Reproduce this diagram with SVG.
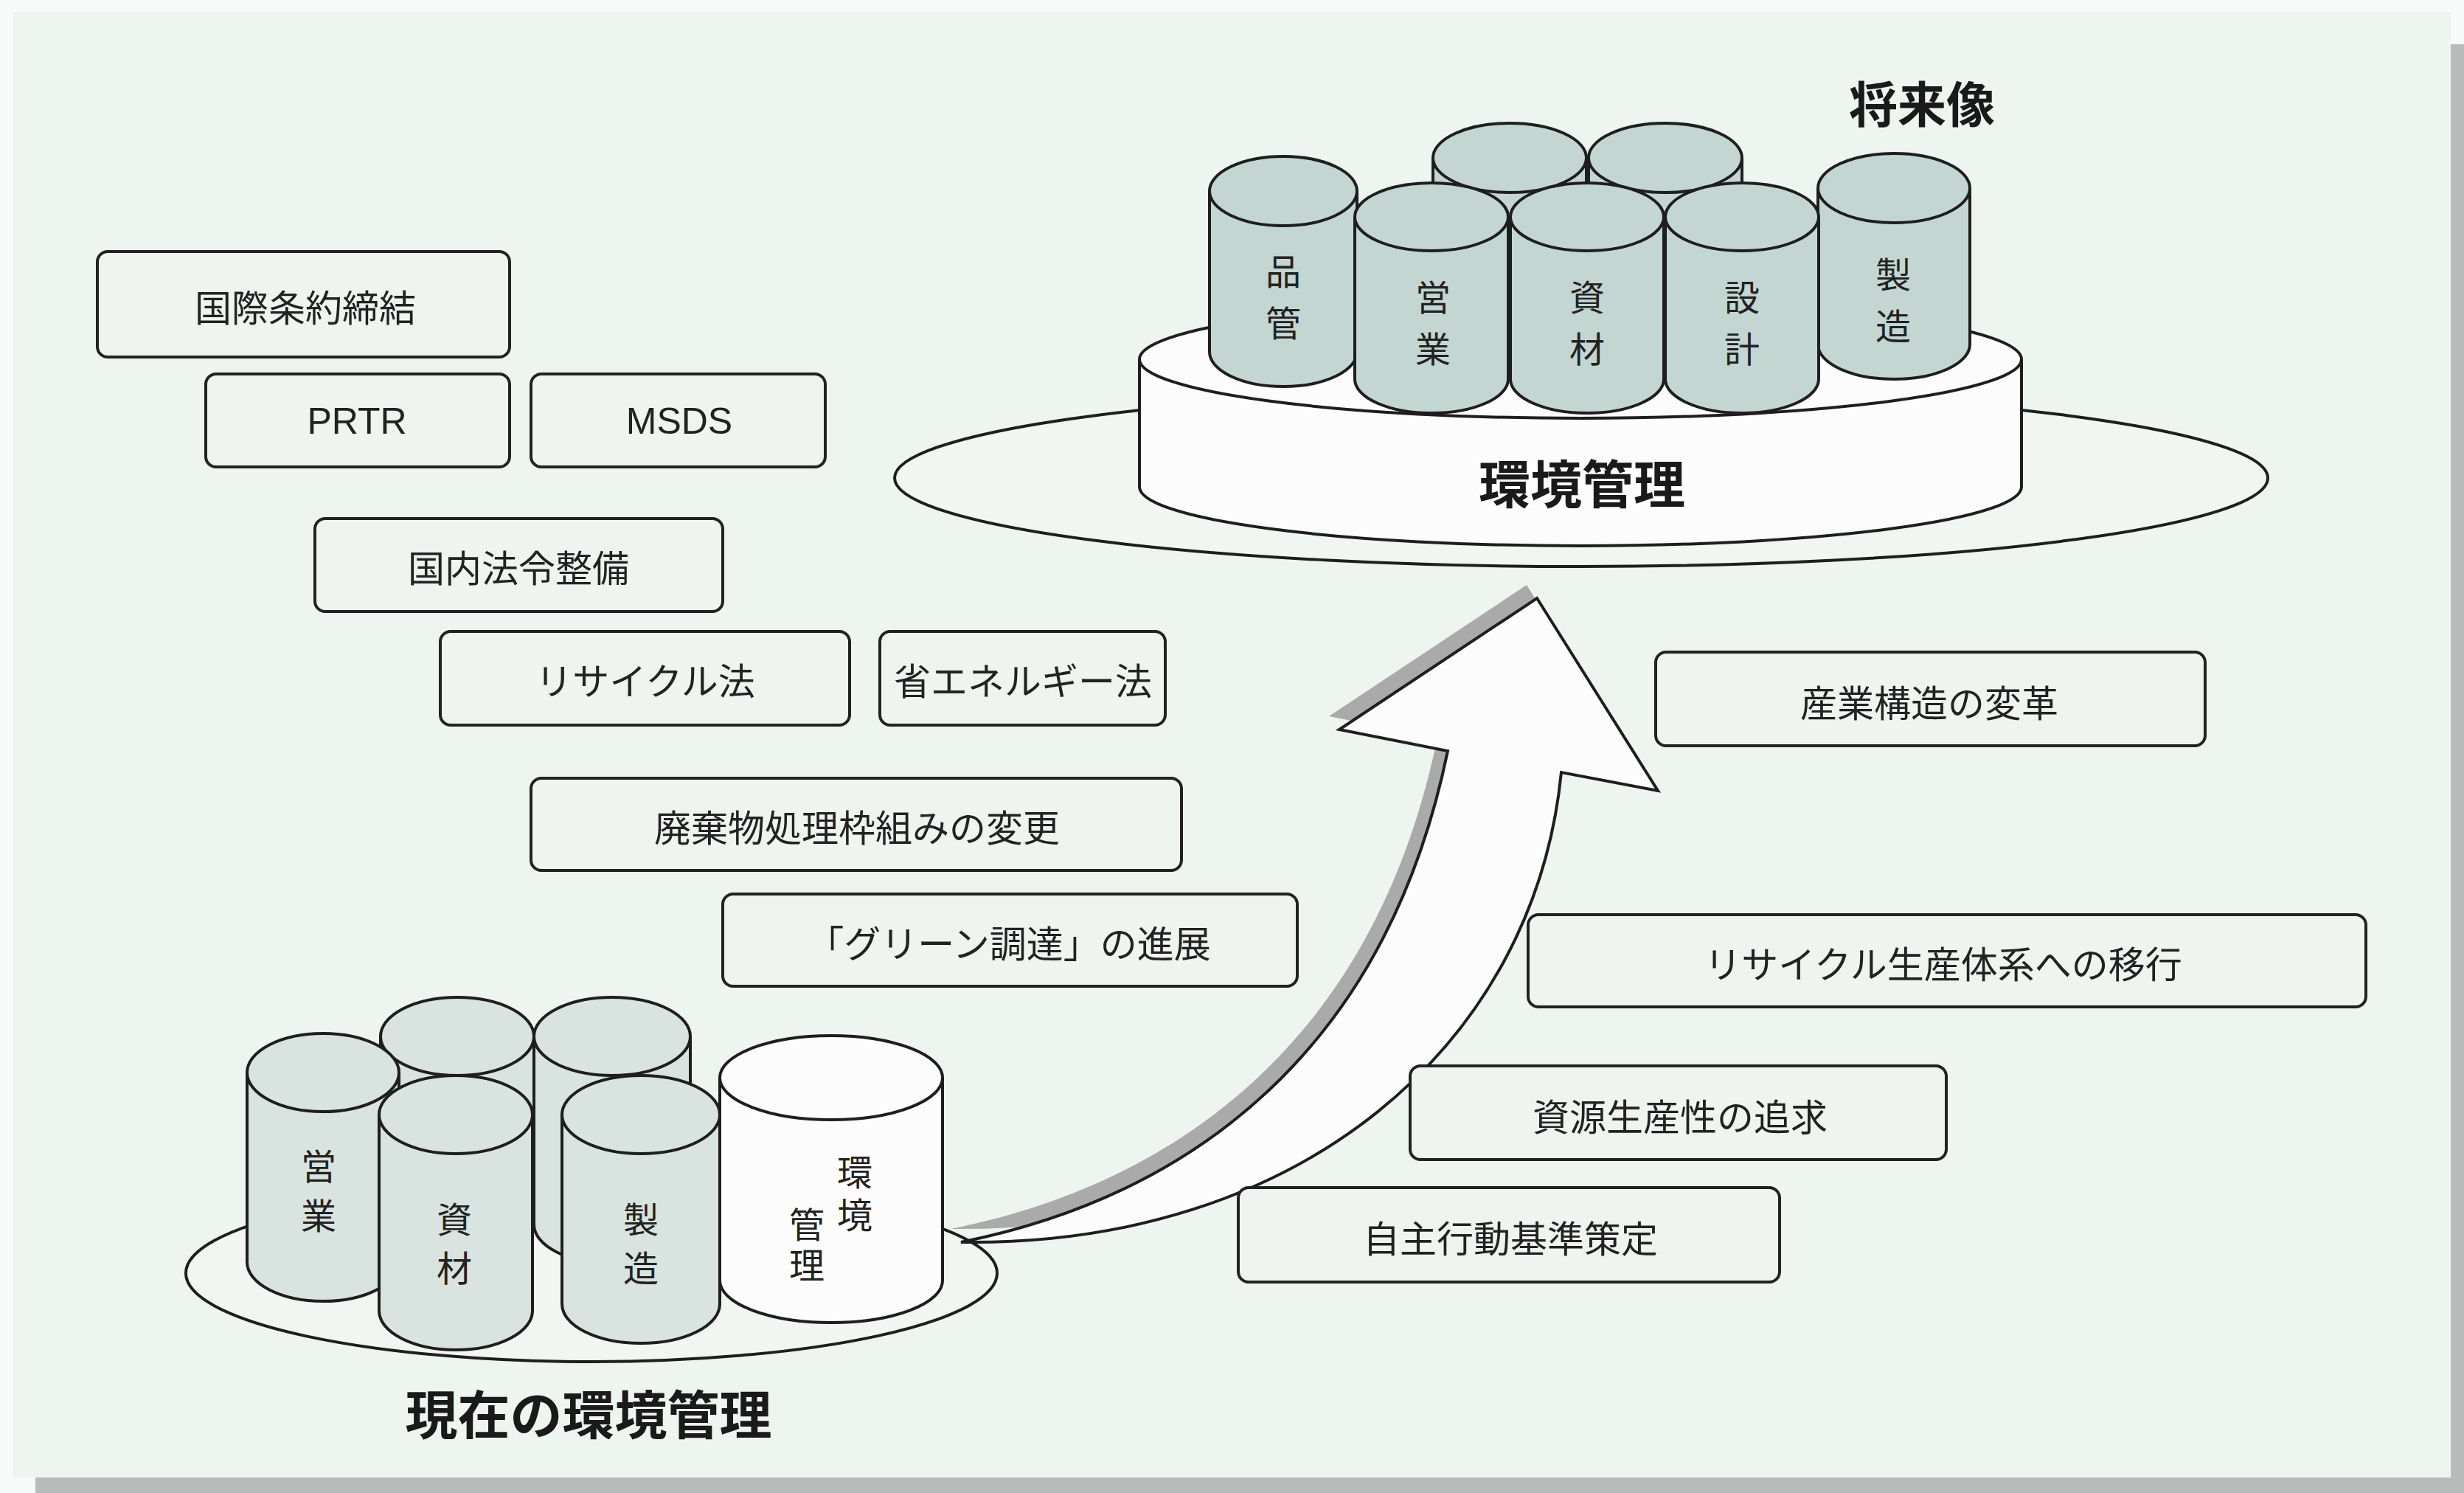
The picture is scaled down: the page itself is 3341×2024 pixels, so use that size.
<svg xmlns="http://www.w3.org/2000/svg" width="3341" height="2024" viewBox="0 0 3341 2024">
  <style>
    .box { fill: #f0f4f1; stroke: #222; stroke-width: 4; }
    .lbl { font-family: "Noto Sans CJK JP", "Liberation Sans", sans-serif; font-size: 50px; fill: #222; text-anchor: middle; dominant-baseline: central; }
    .lat { font-family: "Liberation Sans", "Noto Sans CJK JP", sans-serif; font-size: 50px; fill: #222; text-anchor: middle; dominant-baseline: central; }
    .cyl { fill: #c4d6d2; stroke: #1e1e1e; stroke-width: 4; }
    .cyl2 { fill: #d9e3df; stroke: #1e1e1e; stroke-width: 4; }
    .white { fill: #fbfcfb; stroke: #1e1e1e; stroke-width: 4; }
    .plate { fill: #f2f6f3; stroke: #1e1e1e; stroke-width: 4; }
    .ch { font-family: "Noto Sans CJK JP", sans-serif; font-size: 48px; fill: #222; text-anchor: middle; dominant-baseline: central; }
    .title { font-family: "Noto Sans CJK JP", sans-serif; font-weight: 700; fill: #1a1a1a; text-anchor: middle; dominant-baseline: central; }
  </style>

  <!-- page background -->
  <rect x="0" y="0" width="3341" height="2024" fill="#f7faf8"/>
  <rect x="18" y="16" width="3305" height="1987" fill="#eef4f0"/>
  <rect x="3323" y="60" width="18" height="1964" fill="#b8bbb9"/>
  <rect x="48" y="2003" width="3293" height="21" fill="#b8bbb9"/>

  <!-- future model: cake of departments on environmental management -->
  <g id="future">
    <ellipse class="plate" cx="2144" cy="648" rx="931" ry="120"/>
    <path class="white" d="M1545 487 V660 A598 80 0 0 0 2741 660 V487"/>
    <ellipse class="white" cx="2143" cy="487" rx="598" ry="80"/>
    <text class="title" x="2145" y="652" font-size="70">環境管理</text>
    <text class="title" x="2606" y="137" font-size="66">将来像</text>

    <g id="f-back1"><path class="cyl" d="M1943 214 V440 A104 47 0 0 0 2151 440 V214"/><ellipse class="cyl" cx="2047" cy="214" rx="104" ry="47"/></g>
    <g id="f-back2"><path class="cyl" d="M2154 214 V440 A104 47 0 0 0 2362 440 V214"/><ellipse class="cyl" cx="2258" cy="214" rx="104" ry="47"/></g>
    <g id="f-hinkan">
      <path class="cyl" d="M1640 259 V477 A100 47 0 0 0 1840 477 V259"/><ellipse class="cyl" cx="1740" cy="259" rx="100" ry="47"/>
      <text class="ch" x="1740" y="365">品</text><text class="ch" x="1740" y="435">管</text>
    </g>
    <g id="f-seizo">
      <path class="cyl" d="M2465 255 V467 A103 47 0 0 0 2671 467 V255"/><ellipse class="cyl" cx="2568" cy="255" rx="103" ry="47"/>
      <text class="ch" x="2567" y="369">製</text><text class="ch" x="2567" y="439">造</text>
    </g>
    <g id="f-eigyo">
      <path class="cyl" d="M1837 294 V514 A104 46 0 0 0 2045 514 V294"/><ellipse class="cyl" cx="1941" cy="294" rx="104" ry="46"/>
      <text class="ch" x="1943" y="400">営</text><text class="ch" x="1943" y="470">業</text>
    </g>
    <g id="f-shizai">
      <path class="cyl" d="M2048 294 V514 A104 46 0 0 0 2256 514 V294"/><ellipse class="cyl" cx="2152" cy="294" rx="104" ry="46"/>
      <text class="ch" x="2152" y="400">資</text><text class="ch" x="2152" y="470">材</text>
    </g>
    <g id="f-sekkei">
      <path class="cyl" d="M2258 294 V514 A104 46 0 0 0 2466 514 V294"/><ellipse class="cyl" cx="2362" cy="294" rx="104" ry="46"/>
      <text class="ch" x="2362" y="400">設</text><text class="ch" x="2362" y="470">計</text>
    </g>
  </g>

  <!-- current environmental management -->
  <g id="current">
    <ellipse class="plate" cx="802" cy="1726" rx="550" ry="120"/>
    <g id="c-back1"><path class="cyl2" d="M516 1405 V1655 A104 53 0 0 0 724 1655 V1405"/><ellipse class="cyl2" cx="620" cy="1405" rx="104" ry="53"/></g>
    <g id="c-back2"><path class="cyl2" d="M724 1405 V1660 A106 53 0 0 0 936 1660 V1405"/><ellipse class="cyl2" cx="830" cy="1405" rx="106" ry="53"/></g>
    <g id="c-eigyo">
      <path class="cyl2" d="M335 1454 V1711 A103 53 0 0 0 541 1711 V1454"/><ellipse class="cyl2" cx="438" cy="1454" rx="103" ry="53"/>
      <text class="ch" x="432" y="1578" font-size="46">営</text><text class="ch" x="432" y="1645" font-size="46">業</text>
    </g>
    <g id="c-shizai">
      <path class="cyl2" d="M514 1511 V1777 A104 53 0 0 0 722 1777 V1511"/><ellipse class="cyl2" cx="618" cy="1511" rx="104" ry="53"/>
      <text class="ch" x="616" y="1650" font-size="46">資</text><text class="ch" x="616" y="1716" font-size="46">材</text>
    </g>
    <g id="c-seizo">
      <path class="cyl2" d="M762 1511 V1768 A107 53 0 0 0 976 1768 V1511"/><ellipse class="cyl2" cx="869" cy="1511" rx="107" ry="53"/>
      <text class="ch" x="869" y="1650" font-size="46">製</text><text class="ch" x="869" y="1716" font-size="46">造</text>
    </g>
    <g id="c-kankyo">
      <path class="white" d="M976 1461 V1736 A151 57 0 0 0 1278 1736 V1461"/><ellipse class="white" cx="1127" cy="1461" rx="151" ry="57"/>
      <text class="ch" x="1159" y="1586" font-size="46">環</text><text class="ch" x="1159" y="1644" font-size="46">境</text>
      <text class="ch" x="1094" y="1657" font-size="46">管</text><text class="ch" x="1094" y="1712" font-size="46">理</text>
    </g>
    <text class="title" x="798" y="1913" font-size="71">現在の環境管理</text>
  </g>

  <!-- curved arrow from current state to future model -->
  <g id="connectors">
    <path d="M1303 1684 C1620 1620 1880 1420 1963 1018 L1816 989 L2084 811 L2248 1072 L2117 1047 C2080 1420 1760 1690 1303 1684 Z" fill="#a9aaa9" transform="translate(-14 -18)"/>
    <path d="M1303 1684 C1620 1620 1880 1420 1963 1018 L1816 989 L2084 811 L2248 1072 L2117 1047 C2080 1420 1760 1690 1303 1684 Z" fill="#fbfcfb" stroke="#1e1e1e" stroke-width="4" stroke-linejoin="miter"/>
  </g>

  <!-- driving factors (left) -->
  <g id="n1"><rect class="box" x="132" y="341" width="559" height="143" rx="14"/><text class="lbl" x="414" y="414">国際条約締結</text></g>
  <g id="n2"><rect class="box" x="279" y="507" width="412" height="126" rx="14"/><text class="lat" x="484" y="571">PRTR</text></g>
  <g id="n3"><rect class="box" x="720" y="507" width="399" height="126" rx="14"/><text class="lat" x="921" y="571">MSDS</text></g>
  <g id="n4"><rect class="box" x="427" y="703" width="553" height="126" rx="14"/><text class="lbl" x="703" y="767">国内法令整備</text></g>
  <g id="n5"><rect class="box" x="597" y="856" width="555" height="127" rx="14"/><text class="lbl" x="875" y="920">リサイクル法</text></g>
  <g id="n6"><rect class="box" x="1193" y="856" width="387" height="127" rx="14"/><text class="lbl" x="1387" y="920" font-size="46">省エネルギー法</text></g>
  <g id="n7"><rect class="box" x="720" y="1055" width="882" height="125" rx="14"/><text class="lbl" x="1162" y="1119">廃棄物処理枠組みの変更</text></g>
  <g id="n8"><rect class="box" x="980" y="1212" width="779" height="125" rx="14"/><text class="lbl" x="1368" y="1276" font-size="48">「グリーン調達」の進展</text></g>

  <!-- directions (right) -->
  <g id="n9"><rect class="box" x="2245" y="884" width="745" height="127" rx="14"/><text class="lbl" x="2616" y="950">産業構造の変革</text></g>
  <g id="n10"><rect class="box" x="2072" y="1240" width="1136" height="125" rx="14"/><text class="lbl" x="2635" y="1304">リサイクル生産体系への移行</text></g>
  <g id="n11"><rect class="box" x="1912" y="1445" width="727" height="127" rx="14"/><text class="lbl" x="2278" y="1511">資源生産性の追求</text></g>
  <g id="n12"><rect class="box" x="1679" y="1610" width="734" height="128" rx="14"/><text class="lbl" x="2048" y="1676">自主行動基準策定</text></g>
</svg>
